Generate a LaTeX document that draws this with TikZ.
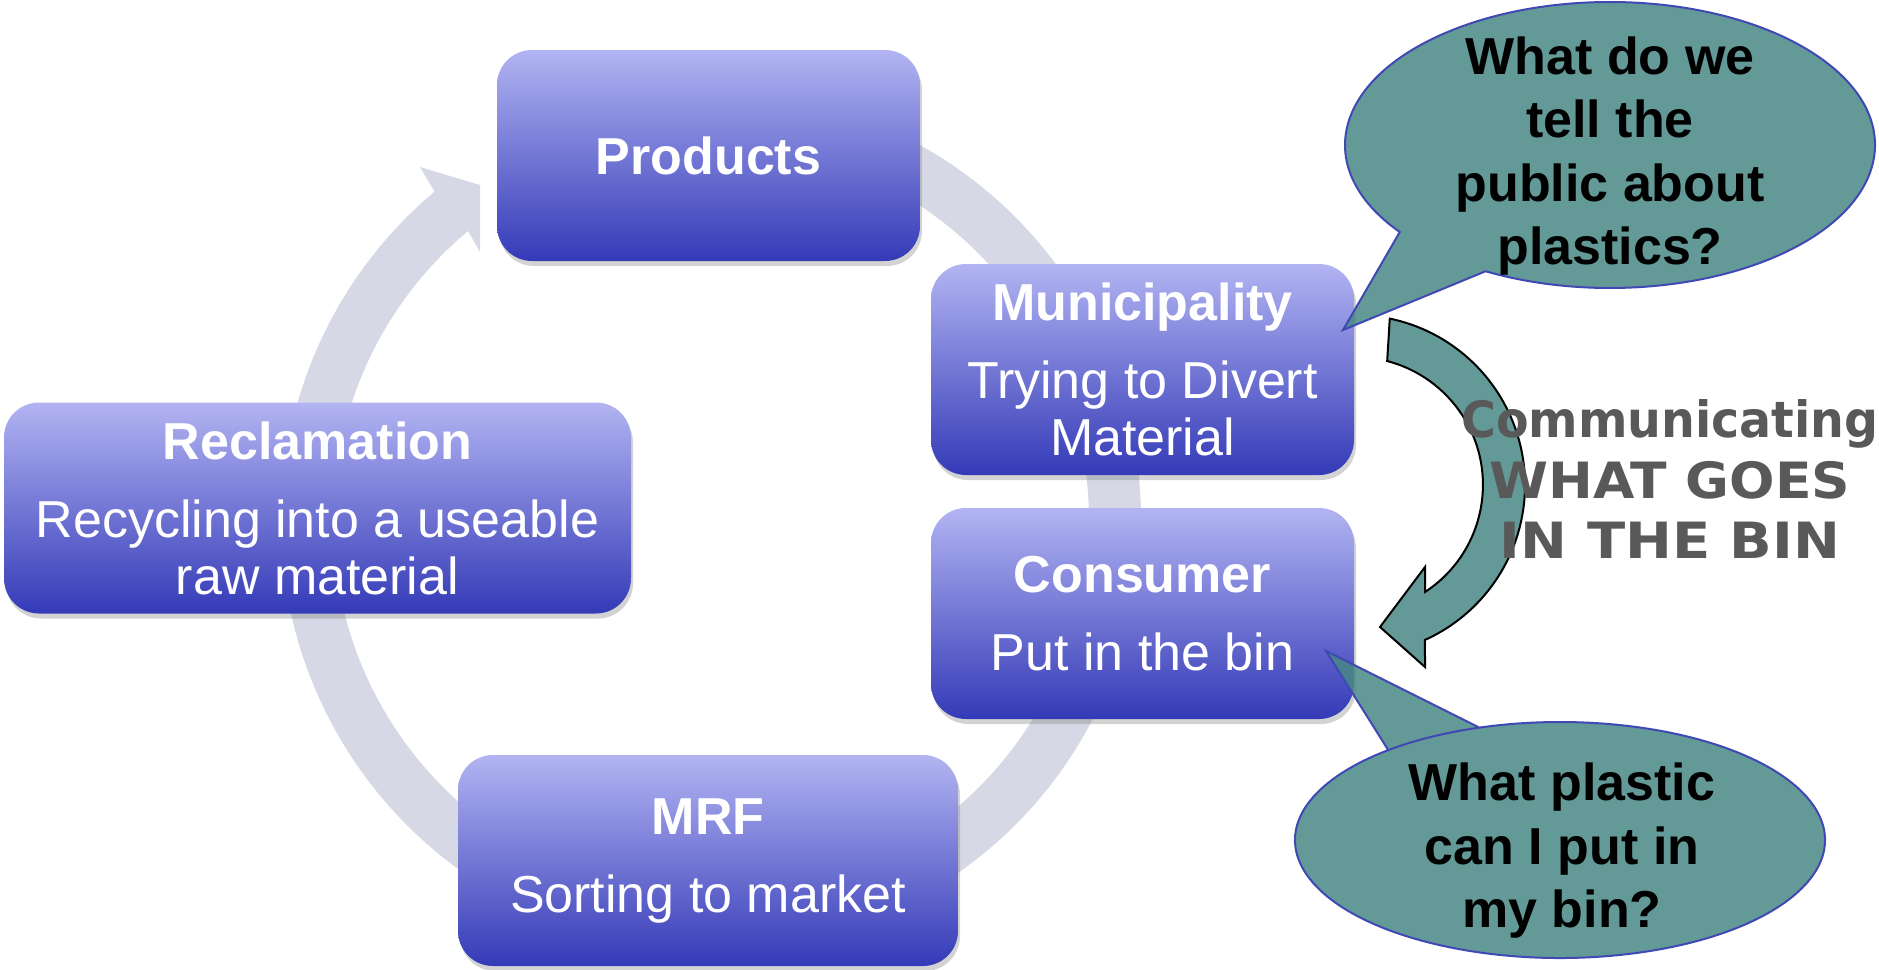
\documentclass[tikz,border=0pt]{standalone}
\usepackage{fontspec}
\usepackage{graphicx}
\setmainfont{Liberation Sans}
\newfontfamily\bannerfont{DejaVu Sans}
\usetikzlibrary{shadows}
\definecolor{ringgrey}{RGB}{214,216,229}
\definecolor{boxtop}{RGB}{178,180,242}
\definecolor{boxbottom}{RGB}{52,58,183}
\definecolor{bubbleteal}{RGB}{99,154,151}
\definecolor{bubblefill}{RGB}{72,136,133}
\definecolor{bubbleline}{RGB}{64,72,180}
\definecolor{bannergrey}{RGB}{89,89,89}

\begin{document}
\begin{tikzpicture}[x=0.5pt, y=0.5pt,
    stage/.style={rounded corners=17.5pt, minimum height=105.5pt, top color=boxtop, bottom color=boxbottom,
        text=white, align=center, inner sep=0pt, font=\fontsize{26}{28.5}\selectfont,
        drop shadow={shadow xshift=1pt, shadow yshift=-2.5pt, opacity=0.35}},
    bubble/.style={fill=bubblefill, fill opacity=0.85, draw=bubbleline, line width=1pt},
    question/.style={align=center, font=\bfseries\fontsize{26}{31.75}\selectfont}]
    \useasboundingbox (0,0) rectangle (1879,-969);

    % recycling ring with its head at the top left
    \fill[ringgrey] (711,-521) ++(75:430) arc[start angle=75, end angle=-230, radius=430]
        -- (420,-167) -- (480,-185) -- (480,-252) -- (468,-231)
        arc[start angle=-230, end angle=75, radius=378] -- cycle;

    % the five stages
    \foreach \name/\pos/\boxwd/\txt in {
        products/{708.5,-155.5}/211.5pt/{\textbf{Products}},
        municipality/{1142.5,-369.5}/211.5pt/{\textbf{Municipality}\\[10.5pt]Trying to Divert\\Material},
        consumer/{1142.5,-613.5}/211.5pt/{\textbf{Consumer}\\[10.5pt]Put in the bin},
        mrf/{708,-860.5}/250pt/{\textbf{MRF}\\[10.5pt]Sorting to market},
        reclamation/{317.5,-508}/313.5pt/{\textbf{Reclamation}\\[10.5pt]Recycling into a useable\\raw material}} {
        \node[stage, minimum width=\boxwd] (\name) at (\pos) {\txt};
    }

    % speech bubbles
    \path[bubble] (1610,-145) ++(217.5:265 and 143)
        arc[start angle=217.5, end angle=-118, x radius=265, y radius=143] -- (1343,-330) -- cycle;
    \path[bubble] (1560,-840) ++(107.7:265 and 118)
        arc[start angle=107.7, end angle=490.4, x radius=265, y radius=118] -- (1326,-651) -- cycle;
    \node[question] (askpublic) at (1610,-156) {What do we\\tell the\\public about\\plastics?};
    \node[question] (askbin) at (1562,-851) {What plastic\\can I put in\\my bin?};

    % curved arrow from municipality down to consumer
    \filldraw[fill=bubbleteal, draw=black, line width=1pt]
        (1355,-485) ++(78.2:170) arc[start angle=78.2, end angle=-65.7, radius=170]
        -- (1425,-667) -- (1380,-627) -- (1425,-567) -- (1425,-592)
        arc[start angle=-56.8, end angle=75.4, radius=128] -- cycle;
    \node[align=center, text=bannergrey, font=\bannerfont\bfseries\fontsize{25}{30.25}\selectfont] (banner)
        at (1670,-479) {\scalebox{0.95}[1]{Communicating}\\\scalebox{1.07}[1]{WHAT GOES}\\\scalebox{1.12}[1]{IN THE BIN}};
\end{tikzpicture}
\end{document}
